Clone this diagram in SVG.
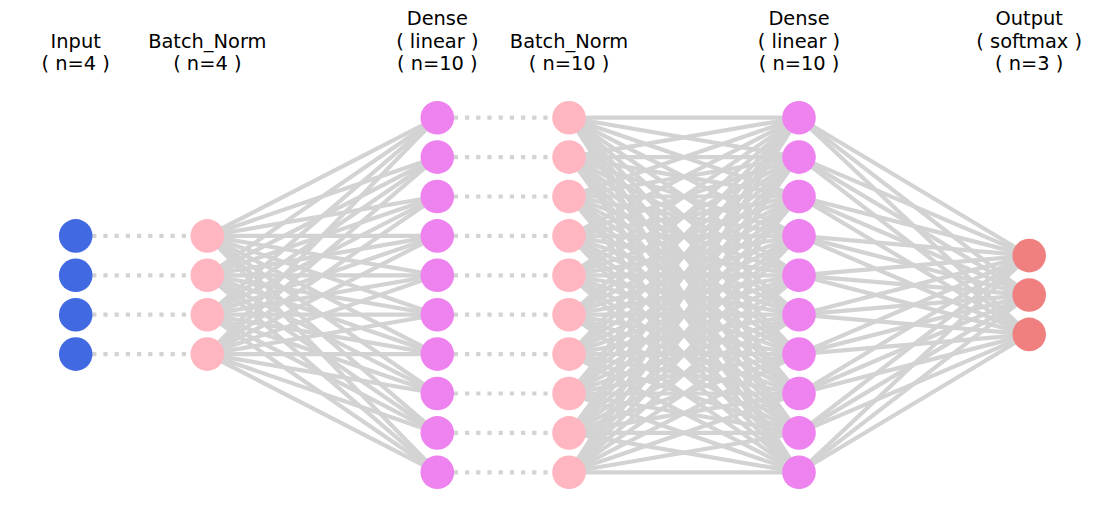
<svg xmlns="http://www.w3.org/2000/svg" width="1105" height="519" viewBox="0 0 1105 519">
<style>
.e{stroke:#d3d3d3;stroke-width:4.2;fill:none}
.d{stroke:#d3d3d3;stroke-width:4.2;stroke-dasharray:4.2 7;stroke-dashoffset:5.9;fill:none}
.in{fill:#4169e1}.bn{fill:#ffb6c1}.de{fill:#ee82ee}.out{fill:#f08080}
text{font-family:"DejaVu Sans","Liberation Sans",sans-serif;font-size:19.4px;fill:#000;text-anchor:middle}
</style>
<rect width="1105" height="519" fill="#fff"/>
<g id="connectors">
<g id="dotted">
<line class="d" x1="75.7" y1="235.9" x2="207.3" y2="235.9"/>
<line class="d" x1="75.7" y1="275.3" x2="207.3" y2="275.3"/>
<line class="d" x1="75.7" y1="314.7" x2="207.3" y2="314.7"/>
<line class="d" x1="75.7" y1="354.1" x2="207.3" y2="354.1"/>
<line class="d" x1="437.3" y1="117.7" x2="569" y2="117.7"/>
<line class="d" x1="437.3" y1="157.1" x2="569" y2="157.1"/>
<line class="d" x1="437.3" y1="196.5" x2="569" y2="196.5"/>
<line class="d" x1="437.3" y1="235.9" x2="569" y2="235.9"/>
<line class="d" x1="437.3" y1="275.3" x2="569" y2="275.3"/>
<line class="d" x1="437.3" y1="314.7" x2="569" y2="314.7"/>
<line class="d" x1="437.3" y1="354.1" x2="569" y2="354.1"/>
<line class="d" x1="437.3" y1="393.5" x2="569" y2="393.5"/>
<line class="d" x1="437.3" y1="432.9" x2="569" y2="432.9"/>
<line class="d" x1="437.3" y1="472.3" x2="569" y2="472.3"/>
</g>
<g id="bn1-dense1">
<line class="e" x1="207.3" y1="235.9" x2="437.3" y2="117.7"/><line class="e" x1="207.3" y1="235.9" x2="437.3" y2="157.1"/><line class="e" x1="207.3" y1="235.9" x2="437.3" y2="196.5"/><line class="e" x1="207.3" y1="235.9" x2="437.3" y2="235.9"/><line class="e" x1="207.3" y1="235.9" x2="437.3" y2="275.3"/><line class="e" x1="207.3" y1="235.9" x2="437.3" y2="314.7"/><line class="e" x1="207.3" y1="235.9" x2="437.3" y2="354.1"/><line class="e" x1="207.3" y1="235.9" x2="437.3" y2="393.5"/><line class="e" x1="207.3" y1="235.9" x2="437.3" y2="432.9"/><line class="e" x1="207.3" y1="235.9" x2="437.3" y2="472.3"/>
<line class="e" x1="207.3" y1="275.3" x2="437.3" y2="117.7"/><line class="e" x1="207.3" y1="275.3" x2="437.3" y2="157.1"/><line class="e" x1="207.3" y1="275.3" x2="437.3" y2="196.5"/><line class="e" x1="207.3" y1="275.3" x2="437.3" y2="235.9"/><line class="e" x1="207.3" y1="275.3" x2="437.3" y2="275.3"/><line class="e" x1="207.3" y1="275.3" x2="437.3" y2="314.7"/><line class="e" x1="207.3" y1="275.3" x2="437.3" y2="354.1"/><line class="e" x1="207.3" y1="275.3" x2="437.3" y2="393.5"/><line class="e" x1="207.3" y1="275.3" x2="437.3" y2="432.9"/><line class="e" x1="207.3" y1="275.3" x2="437.3" y2="472.3"/>
<line class="e" x1="207.3" y1="314.7" x2="437.3" y2="117.7"/><line class="e" x1="207.3" y1="314.7" x2="437.3" y2="157.1"/><line class="e" x1="207.3" y1="314.7" x2="437.3" y2="196.5"/><line class="e" x1="207.3" y1="314.7" x2="437.3" y2="235.9"/><line class="e" x1="207.3" y1="314.7" x2="437.3" y2="275.3"/><line class="e" x1="207.3" y1="314.7" x2="437.3" y2="314.7"/><line class="e" x1="207.3" y1="314.7" x2="437.3" y2="354.1"/><line class="e" x1="207.3" y1="314.7" x2="437.3" y2="393.5"/><line class="e" x1="207.3" y1="314.7" x2="437.3" y2="432.9"/><line class="e" x1="207.3" y1="314.7" x2="437.3" y2="472.3"/>
<line class="e" x1="207.3" y1="354.1" x2="437.3" y2="117.7"/><line class="e" x1="207.3" y1="354.1" x2="437.3" y2="157.1"/><line class="e" x1="207.3" y1="354.1" x2="437.3" y2="196.5"/><line class="e" x1="207.3" y1="354.1" x2="437.3" y2="235.9"/><line class="e" x1="207.3" y1="354.1" x2="437.3" y2="275.3"/><line class="e" x1="207.3" y1="354.1" x2="437.3" y2="314.7"/><line class="e" x1="207.3" y1="354.1" x2="437.3" y2="354.1"/><line class="e" x1="207.3" y1="354.1" x2="437.3" y2="393.5"/><line class="e" x1="207.3" y1="354.1" x2="437.3" y2="432.9"/><line class="e" x1="207.3" y1="354.1" x2="437.3" y2="472.3"/>
</g>
<g id="bn2-dense2">
<line class="e" x1="569" y1="117.7" x2="799" y2="117.7"/><line class="e" x1="569" y1="117.7" x2="799" y2="157.1"/><line class="e" x1="569" y1="117.7" x2="799" y2="196.5"/><line class="e" x1="569" y1="117.7" x2="799" y2="235.9"/><line class="e" x1="569" y1="117.7" x2="799" y2="275.3"/><line class="e" x1="569" y1="117.7" x2="799" y2="314.7"/><line class="e" x1="569" y1="117.7" x2="799" y2="354.1"/><line class="e" x1="569" y1="117.7" x2="799" y2="393.5"/><line class="e" x1="569" y1="117.7" x2="799" y2="432.9"/><line class="e" x1="569" y1="117.7" x2="799" y2="472.3"/>
<line class="e" x1="569" y1="157.1" x2="799" y2="117.7"/><line class="e" x1="569" y1="157.1" x2="799" y2="157.1"/><line class="e" x1="569" y1="157.1" x2="799" y2="196.5"/><line class="e" x1="569" y1="157.1" x2="799" y2="235.9"/><line class="e" x1="569" y1="157.1" x2="799" y2="275.3"/><line class="e" x1="569" y1="157.1" x2="799" y2="314.7"/><line class="e" x1="569" y1="157.1" x2="799" y2="354.1"/><line class="e" x1="569" y1="157.1" x2="799" y2="393.5"/><line class="e" x1="569" y1="157.1" x2="799" y2="432.9"/><line class="e" x1="569" y1="157.1" x2="799" y2="472.3"/>
<line class="e" x1="569" y1="196.5" x2="799" y2="117.7"/><line class="e" x1="569" y1="196.5" x2="799" y2="157.1"/><line class="e" x1="569" y1="196.5" x2="799" y2="196.5"/><line class="e" x1="569" y1="196.5" x2="799" y2="235.9"/><line class="e" x1="569" y1="196.5" x2="799" y2="275.3"/><line class="e" x1="569" y1="196.5" x2="799" y2="314.7"/><line class="e" x1="569" y1="196.5" x2="799" y2="354.1"/><line class="e" x1="569" y1="196.5" x2="799" y2="393.5"/><line class="e" x1="569" y1="196.5" x2="799" y2="432.9"/><line class="e" x1="569" y1="196.5" x2="799" y2="472.3"/>
<line class="e" x1="569" y1="235.9" x2="799" y2="117.7"/><line class="e" x1="569" y1="235.9" x2="799" y2="157.1"/><line class="e" x1="569" y1="235.9" x2="799" y2="196.5"/><line class="e" x1="569" y1="235.9" x2="799" y2="235.9"/><line class="e" x1="569" y1="235.9" x2="799" y2="275.3"/><line class="e" x1="569" y1="235.9" x2="799" y2="314.7"/><line class="e" x1="569" y1="235.9" x2="799" y2="354.1"/><line class="e" x1="569" y1="235.9" x2="799" y2="393.5"/><line class="e" x1="569" y1="235.9" x2="799" y2="432.9"/><line class="e" x1="569" y1="235.9" x2="799" y2="472.3"/>
<line class="e" x1="569" y1="275.3" x2="799" y2="117.7"/><line class="e" x1="569" y1="275.3" x2="799" y2="157.1"/><line class="e" x1="569" y1="275.3" x2="799" y2="196.5"/><line class="e" x1="569" y1="275.3" x2="799" y2="235.9"/><line class="e" x1="569" y1="275.3" x2="799" y2="275.3"/><line class="e" x1="569" y1="275.3" x2="799" y2="314.7"/><line class="e" x1="569" y1="275.3" x2="799" y2="354.1"/><line class="e" x1="569" y1="275.3" x2="799" y2="393.5"/><line class="e" x1="569" y1="275.3" x2="799" y2="432.9"/><line class="e" x1="569" y1="275.3" x2="799" y2="472.3"/>
<line class="e" x1="569" y1="314.7" x2="799" y2="117.7"/><line class="e" x1="569" y1="314.7" x2="799" y2="157.1"/><line class="e" x1="569" y1="314.7" x2="799" y2="196.5"/><line class="e" x1="569" y1="314.7" x2="799" y2="235.9"/><line class="e" x1="569" y1="314.7" x2="799" y2="275.3"/><line class="e" x1="569" y1="314.7" x2="799" y2="314.7"/><line class="e" x1="569" y1="314.7" x2="799" y2="354.1"/><line class="e" x1="569" y1="314.7" x2="799" y2="393.5"/><line class="e" x1="569" y1="314.7" x2="799" y2="432.9"/><line class="e" x1="569" y1="314.7" x2="799" y2="472.3"/>
<line class="e" x1="569" y1="354.1" x2="799" y2="117.7"/><line class="e" x1="569" y1="354.1" x2="799" y2="157.1"/><line class="e" x1="569" y1="354.1" x2="799" y2="196.5"/><line class="e" x1="569" y1="354.1" x2="799" y2="235.9"/><line class="e" x1="569" y1="354.1" x2="799" y2="275.3"/><line class="e" x1="569" y1="354.1" x2="799" y2="314.7"/><line class="e" x1="569" y1="354.1" x2="799" y2="354.1"/><line class="e" x1="569" y1="354.1" x2="799" y2="393.5"/><line class="e" x1="569" y1="354.1" x2="799" y2="432.9"/><line class="e" x1="569" y1="354.1" x2="799" y2="472.3"/>
<line class="e" x1="569" y1="393.5" x2="799" y2="117.7"/><line class="e" x1="569" y1="393.5" x2="799" y2="157.1"/><line class="e" x1="569" y1="393.5" x2="799" y2="196.5"/><line class="e" x1="569" y1="393.5" x2="799" y2="235.9"/><line class="e" x1="569" y1="393.5" x2="799" y2="275.3"/><line class="e" x1="569" y1="393.5" x2="799" y2="314.7"/><line class="e" x1="569" y1="393.5" x2="799" y2="354.1"/><line class="e" x1="569" y1="393.5" x2="799" y2="393.5"/><line class="e" x1="569" y1="393.5" x2="799" y2="432.9"/><line class="e" x1="569" y1="393.5" x2="799" y2="472.3"/>
<line class="e" x1="569" y1="432.9" x2="799" y2="117.7"/><line class="e" x1="569" y1="432.9" x2="799" y2="157.1"/><line class="e" x1="569" y1="432.9" x2="799" y2="196.5"/><line class="e" x1="569" y1="432.9" x2="799" y2="235.9"/><line class="e" x1="569" y1="432.9" x2="799" y2="275.3"/><line class="e" x1="569" y1="432.9" x2="799" y2="314.7"/><line class="e" x1="569" y1="432.9" x2="799" y2="354.1"/><line class="e" x1="569" y1="432.9" x2="799" y2="393.5"/><line class="e" x1="569" y1="432.9" x2="799" y2="432.9"/><line class="e" x1="569" y1="432.9" x2="799" y2="472.3"/>
<line class="e" x1="569" y1="472.3" x2="799" y2="117.7"/><line class="e" x1="569" y1="472.3" x2="799" y2="157.1"/><line class="e" x1="569" y1="472.3" x2="799" y2="196.5"/><line class="e" x1="569" y1="472.3" x2="799" y2="235.9"/><line class="e" x1="569" y1="472.3" x2="799" y2="275.3"/><line class="e" x1="569" y1="472.3" x2="799" y2="314.7"/><line class="e" x1="569" y1="472.3" x2="799" y2="354.1"/><line class="e" x1="569" y1="472.3" x2="799" y2="393.5"/><line class="e" x1="569" y1="472.3" x2="799" y2="432.9"/><line class="e" x1="569" y1="472.3" x2="799" y2="472.3"/>
</g>
<g id="dense2-output">
<line class="e" x1="799" y1="117.7" x2="1029.2" y2="255.6"/><line class="e" x1="799" y1="117.7" x2="1029.2" y2="295"/><line class="e" x1="799" y1="117.7" x2="1029.2" y2="334.4"/>
<line class="e" x1="799" y1="157.1" x2="1029.2" y2="255.6"/><line class="e" x1="799" y1="157.1" x2="1029.2" y2="295"/><line class="e" x1="799" y1="157.1" x2="1029.2" y2="334.4"/>
<line class="e" x1="799" y1="196.5" x2="1029.2" y2="255.6"/><line class="e" x1="799" y1="196.5" x2="1029.2" y2="295"/><line class="e" x1="799" y1="196.5" x2="1029.2" y2="334.4"/>
<line class="e" x1="799" y1="235.9" x2="1029.2" y2="255.6"/><line class="e" x1="799" y1="235.9" x2="1029.2" y2="295"/><line class="e" x1="799" y1="235.9" x2="1029.2" y2="334.4"/>
<line class="e" x1="799" y1="275.3" x2="1029.2" y2="255.6"/><line class="e" x1="799" y1="275.3" x2="1029.2" y2="295"/><line class="e" x1="799" y1="275.3" x2="1029.2" y2="334.4"/>
<line class="e" x1="799" y1="314.7" x2="1029.2" y2="255.6"/><line class="e" x1="799" y1="314.7" x2="1029.2" y2="295"/><line class="e" x1="799" y1="314.7" x2="1029.2" y2="334.4"/>
<line class="e" x1="799" y1="354.1" x2="1029.2" y2="255.6"/><line class="e" x1="799" y1="354.1" x2="1029.2" y2="295"/><line class="e" x1="799" y1="354.1" x2="1029.2" y2="334.4"/>
<line class="e" x1="799" y1="393.5" x2="1029.2" y2="255.6"/><line class="e" x1="799" y1="393.5" x2="1029.2" y2="295"/><line class="e" x1="799" y1="393.5" x2="1029.2" y2="334.4"/>
<line class="e" x1="799" y1="432.9" x2="1029.2" y2="255.6"/><line class="e" x1="799" y1="432.9" x2="1029.2" y2="295"/><line class="e" x1="799" y1="432.9" x2="1029.2" y2="334.4"/>
<line class="e" x1="799" y1="472.3" x2="1029.2" y2="255.6"/><line class="e" x1="799" y1="472.3" x2="1029.2" y2="295"/><line class="e" x1="799" y1="472.3" x2="1029.2" y2="334.4"/>
</g>
</g>
<g id="labels">
<text x="75.7" y="47.5">Input</text><text x="75.7" y="70">( n=4 )</text>
<text x="207.3" y="47.5">Batch_Norm</text><text x="207.3" y="70">( n=4 )</text>
<text x="437.3" y="25">Dense</text><text x="437.3" y="47.5">( linear )</text><text x="437.3" y="70">( n=10 )</text>
<text x="569" y="47.5">Batch_Norm</text><text x="569" y="70">( n=10 )</text>
<text x="799" y="25">Dense</text><text x="799" y="47.5">( linear )</text><text x="799" y="70">( n=10 )</text>
<text x="1029.2" y="25">Output</text><text x="1029.2" y="47.5">( softmax )</text><text x="1029.2" y="70">( n=3 )</text>
</g>
<g id="layer-input">
<circle id="input-1" class="in" cx="75.7" cy="235.9" r="16.8"/>
<circle id="input-2" class="in" cx="75.7" cy="275.3" r="16.8"/>
<circle id="input-3" class="in" cx="75.7" cy="314.7" r="16.8"/>
<circle id="input-4" class="in" cx="75.7" cy="354.1" r="16.8"/>
</g>
<g id="layer-bn1">
<circle id="bn1-1" class="bn" cx="207.3" cy="235.9" r="16.8"/>
<circle id="bn1-2" class="bn" cx="207.3" cy="275.3" r="16.8"/>
<circle id="bn1-3" class="bn" cx="207.3" cy="314.7" r="16.8"/>
<circle id="bn1-4" class="bn" cx="207.3" cy="354.1" r="16.8"/>
</g>
<g id="layer-dense1">
<circle id="dense1-1" class="de" cx="437.3" cy="117.7" r="16.8"/>
<circle id="dense1-2" class="de" cx="437.3" cy="157.1" r="16.8"/>
<circle id="dense1-3" class="de" cx="437.3" cy="196.5" r="16.8"/>
<circle id="dense1-4" class="de" cx="437.3" cy="235.9" r="16.8"/>
<circle id="dense1-5" class="de" cx="437.3" cy="275.3" r="16.8"/>
<circle id="dense1-6" class="de" cx="437.3" cy="314.7" r="16.8"/>
<circle id="dense1-7" class="de" cx="437.3" cy="354.1" r="16.8"/>
<circle id="dense1-8" class="de" cx="437.3" cy="393.5" r="16.8"/>
<circle id="dense1-9" class="de" cx="437.3" cy="432.9" r="16.8"/>
<circle id="dense1-10" class="de" cx="437.3" cy="472.3" r="16.8"/>
</g>
<g id="layer-bn2">
<circle id="bn2-1" class="bn" cx="569" cy="117.7" r="16.8"/>
<circle id="bn2-2" class="bn" cx="569" cy="157.1" r="16.8"/>
<circle id="bn2-3" class="bn" cx="569" cy="196.5" r="16.8"/>
<circle id="bn2-4" class="bn" cx="569" cy="235.9" r="16.8"/>
<circle id="bn2-5" class="bn" cx="569" cy="275.3" r="16.8"/>
<circle id="bn2-6" class="bn" cx="569" cy="314.7" r="16.8"/>
<circle id="bn2-7" class="bn" cx="569" cy="354.1" r="16.8"/>
<circle id="bn2-8" class="bn" cx="569" cy="393.5" r="16.8"/>
<circle id="bn2-9" class="bn" cx="569" cy="432.9" r="16.8"/>
<circle id="bn2-10" class="bn" cx="569" cy="472.3" r="16.8"/>
</g>
<g id="layer-dense2">
<circle id="dense2-1" class="de" cx="799" cy="117.7" r="16.8"/>
<circle id="dense2-2" class="de" cx="799" cy="157.1" r="16.8"/>
<circle id="dense2-3" class="de" cx="799" cy="196.5" r="16.8"/>
<circle id="dense2-4" class="de" cx="799" cy="235.9" r="16.8"/>
<circle id="dense2-5" class="de" cx="799" cy="275.3" r="16.8"/>
<circle id="dense2-6" class="de" cx="799" cy="314.7" r="16.8"/>
<circle id="dense2-7" class="de" cx="799" cy="354.1" r="16.8"/>
<circle id="dense2-8" class="de" cx="799" cy="393.5" r="16.8"/>
<circle id="dense2-9" class="de" cx="799" cy="432.9" r="16.8"/>
<circle id="dense2-10" class="de" cx="799" cy="472.3" r="16.8"/>
</g>
<g id="layer-output">
<circle id="output-1" class="out" cx="1029.2" cy="255.6" r="16.8"/>
<circle id="output-2" class="out" cx="1029.2" cy="295" r="16.8"/>
<circle id="output-3" class="out" cx="1029.2" cy="334.4" r="16.8"/>
</g>
</svg>
